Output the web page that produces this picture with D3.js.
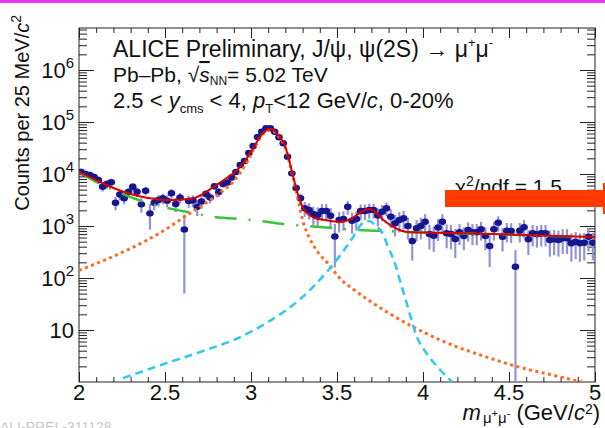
<!DOCTYPE html>
<html>
<head>
<meta charset="utf-8">
<script src="https://cdn.jsdelivr.net/npm/d3@7"></script>
<style>
  body { margin: 0; background: #fff; }
  svg { display: block; font-family: "Liberation Sans", Arial, sans-serif; }
</style>
</head>
<body>
<svg id="chart" width="605" height="428"></svg>
<script>
// dimuon invariant mass, 25 MeV bins from 2 to 5 GeV/c2
const binLow = 2, binWidth = 0.025;
const counts = [
  11000, 10000, 9570, 8750, 7670, 5700, 6420, 6920, 2800, 4030,
  3410, 4510, 5700, 4570, 2610, 4770, 1750, 2800, 3160, 3410,
  3070, 4250, 2650, 3530, 860, 3030, 3090, 2350, 2960, 4120,
  3530, 5800, 4510, 6420, 6870, 8570, 10900, 14900, 17800, 25300,
  34500, 51500, 65100, 75700, 75700, 65100, 50800, 38900, 21500, 10300,
  5380, 3410, 2190, 2030, 1700, 1630, 1940, 1940, 1570, 630,
  1300, 1360, 2350, 1260, 1360, 1940, 1940, 2030, 2030, 1590,
  1880, 2190, 1510, 1130, 1300, 1410, 1000, 515, 903, 1000,
  1210, 702, 648, 935, 1210, 724, 702, 562, 757, 642,
  838, 757, 757, 864, 642, 412, 864, 1160, 623, 812,
  801, 165, 812, 944, 555, 724, 693, 724, 724, 538,
  555, 538, 580, 580, 465, 499, 465, 477, 623, 477
];
const errors = [
  1700, 1600, 1500, 1400, 1300, 1100, 1200, 1200, 800, 900,
  800, 900, 1000, 900, 800, 900, 900, 800, 800, 800,
  800, 900, 800, 800, 810, 800, 800, 800, 800, 800,
  800, 900, 900, 900, 900, 1000, 1200, 1400, 1500, 1800,
  2000, 2400, 2600, 2800, 2800, 2600, 2400, 2000, 1600, 1200,
  900, 800, 700, 700, 650, 650, 700, 700, 650, 470,
  550, 550, 700, 550, 550, 650, 650, 650, 650, 600,
  650, 650, 600, 500, 550, 550, 450, 300, 400, 450,
  480, 350, 330, 420, 480, 350, 350, 320, 330, 300,
  340, 330, 330, 340, 300, 250, 340, 380, 300, 330,
  330, 180, 330, 350, 280, 320, 310, 320, 320, 280,
  280, 280, 290, 290, 260, 270, 260, 260, 300, 260
];

// fit components
const totalMass = [2.0, 2.1, 2.2, 2.3, 2.4, 2.5, 2.6, 2.67, 2.73, 2.79, 2.85, 2.92, 2.98, 3.02, 3.06, 3.09, 3.11, 3.13, 3.16, 3.2, 3.24, 3.27, 3.31, 3.37, 3.43, 3.52, 3.59, 3.65, 3.69, 3.73, 3.77, 3.85, 3.91, 4.2, 4.6, 5.0];
const totalFit = [10930, 7670, 5380, 4120, 3455, 3160, 3235, 3455, 4310, 5880, 8010, 11940, 21200, 34500, 56200, 70200, 73300, 70200, 56200, 33000, 10450, 4310, 2030, 1425, 1305, 1194, 1425, 1942, 2123, 1778, 1305, 876, 767, 733, 671, 615];

const bkgMass = [2.0, 2.1, 2.2, 2.33, 2.49, 2.6, 2.75, 3.0, 3.24, 3.4, 3.63, 3.77, 3.9, 4.2, 4.6, 5.0];
const bkgFit = [10930, 7020, 4920, 3305, 2318, 1942, 1557, 1305, 1045, 957, 838, 802, 767, 725, 665, 608];

const jpsiMass = [2.0, 2.28, 2.47, 2.63, 2.72, 2.82, 2.895, 2.977, 3.02, 3.06, 3.09, 3.11, 3.13, 3.16, 3.2, 3.24, 3.27, 3.3, 3.34, 3.38, 3.45, 3.52, 3.6, 3.7, 3.8, 3.9, 4.0, 4.1, 4.2, 4.3, 4.4, 4.5, 4.6, 4.7, 4.8, 4.9, 4.95];
const jpsiFit = [140, 345, 733, 1628, 2535, 4310, 7020, 17000, 31600, 53800, 67100, 70200, 67100, 53800, 31600, 10000, 3775, 1305, 588, 345, 186, 96, 58.8, 34.5, 21.2, 13.6, 9.2, 6.4, 4.7, 3.6, 2.8, 2.2, 1.78, 1.49, 1.25, 1.04, 0.96];

const psiMass = [2.256, 2.494, 2.738, 2.9, 3.1, 3.28, 3.44, 3.52, 3.59, 3.65, 3.69, 3.72, 3.76, 3.8, 3.84, 3.87, 3.9, 3.93, 3.96, 4.0, 4.05, 4.1, 4.17];
const psiFit = [1.19, 2.22, 4.12, 6.43, 14.3, 37.8, 130, 277, 588, 1142, 1248, 1045, 767, 378, 178, 80, 37.8, 17, 8.0, 4.5, 2.65, 1.70, 1.0];

const xMajor = [2, 2.5, 3, 3.5, 4, 4.5, 5];
const xLabels = ["2", "2.5", "3", "3.5", "4", "4.5", "5"];
const yDecades = [10, 100, 1000, 10000, 100000, 1000000];
const yExponents = ["", "2", "3", "4", "5", "6"];

const svg = d3.select("#chart");

const x = d3.scaleLinear().domain([2, 5]).range([79, 595]);
const y = d3.scaleLog().domain([1, 6.42e6]).range([382, 28]);

// magenta strip at the very top
svg.append("rect").attr("x", 0).attr("y", 0).attr("width", 605).attr("height", 3).attr("fill", "#ee33ee");

svg.append("defs").append("clipPath").attr("id", "plotclip")
  .append("rect").attr("x", 79).attr("y", 28).attr("width", 516).attr("height", 354);

// ---- axes (ticks pointing inwards, ROOT style)
const xMinor = x.ticks(30).filter(v => !xMajor.some(m => Math.abs(m - v) < 1e-6));
const yAll = y.ticks().filter(v => v > 1);
const yMinor = yAll.filter(v => !yDecades.includes(v));

function tickAxis(axisFn, scale, vals, size, tx, ty) {
  svg.append("g")
    .attr("transform", `translate(${tx},${ty})`)
    .call(axisFn(scale).tickValues(vals).tickSize(size).tickFormat(""))
    .call(g => g.select(".domain").remove())
    .call(g => g.selectAll("line").attr("stroke", "#222"));
}
tickAxis(d3.axisTop, x, xMajor, 10, 0, 382);
tickAxis(d3.axisTop, x, xMinor, 5, 0, 382);
tickAxis(d3.axisBottom, x, xMajor, 10, 0, 28);
tickAxis(d3.axisBottom, x, xMinor, 5, 0, 28);
tickAxis(d3.axisRight, y, yDecades, 15, 79, 0);
tickAxis(d3.axisRight, y, yMinor, 8, 79, 0);
tickAxis(d3.axisLeft, y, yDecades, 15, 595, 0);
tickAxis(d3.axisLeft, y, yMinor, 8, 595, 0);

svg.append("rect").attr("x", 79).attr("y", 28).attr("width", 516).attr("height", 354)
  .attr("fill", "none").attr("stroke", "#222").attr("stroke-width", 1);

// tick labels
svg.append("g").selectAll("text").data(xMajor).join("text")
  .attr("x", d => x(d)).attr("y", 400)
  .attr("text-anchor", "middle").attr("font-size", 22).attr("fill", "#111")
  .text((d, i) => xLabels[i]);

const yl = svg.append("g").selectAll("text").data(yDecades).join("text")
  .attr("x", 74).attr("y", d => y(d) + 8)
  .attr("text-anchor", "end").attr("font-size", 22).attr("fill", "#111");
yl.append("tspan").text("10");
yl.append("tspan").attr("font-size", 15).attr("dy", -10).text((d, i) => yExponents[i]);

// axis titles
const yt = svg.append("text")
  .attr("transform", "translate(29,15) rotate(-90)")
  .attr("text-anchor", "end").attr("font-size", 20).attr("fill", "#111");
yt.append("tspan").text("Counts per 25 MeV/");
yt.append("tspan").attr("font-style", "italic").text("c");
yt.append("tspan").attr("font-size", 14).attr("dy", -8).text("2");

const xt = svg.append("text")
  .attr("x", 600).attr("y", 420)
  .attr("text-anchor", "end").attr("font-size", 22).attr("fill", "#111");
xt.append("tspan").attr("font-style", "italic").text("m");
xt.append("tspan").attr("font-size", 15).attr("dx", 2).attr("dy", 3).text("\u03bc");
xt.append("tspan").attr("font-size", 11).attr("dy", -6).text("+");
xt.append("tspan").attr("font-size", 15).attr("dy", 6).text("\u03bc");
xt.append("tspan").attr("font-size", 11).attr("dy", -6).text("-");
xt.append("tspan").attr("dy", 3).text("  (GeV/");
xt.append("tspan").attr("font-style", "italic").text("c");
xt.append("tspan").attr("font-size", 14).attr("dy", -6).text("2");
xt.append("tspan").attr("dy", 6).text(")");

// ---- data
const plot = svg.append("g").attr("clip-path", "url(#plotclip)");
const pts = counts.map((c, i) => ({ m: binLow + (i + 0.5) * binWidth, c: c, e: errors[i] }));

plot.append("g").selectAll("line").data(pts).join("line")
  .attr("x1", d => x(d.m)).attr("x2", d => x(d.m))
  .attr("y1", d => y(Math.max(d.c - d.e, 0.5)))
  .attr("y2", d => y(d.c + d.e))
  .attr("stroke", "#9494d4").attr("stroke-width", 2.2);

plot.append("g").selectAll("ellipse").data(pts).join("ellipse")
  .attr("cx", d => x(d.m)).attr("cy", d => y(d.c))
  .attr("rx", 3.8).attr("ry", 3.2)
  .attr("fill", "#161690");

// ---- fit curves
const line = d3.line().x(d => x(d[0])).y(d => y(d[1])).curve(d3.curveMonotoneX);

plot.append("path").datum(d3.zip(bkgMass, bkgFit)).attr("d", line)
  .attr("fill", "none").attr("stroke", "#3cc23c").attr("stroke-width", 2.5)
  .attr("stroke-dasharray", "22,12,2,12");
plot.append("path").datum(d3.zip(jpsiMass, jpsiFit)).attr("d", line)
  .attr("fill", "none").attr("stroke", "#ff6a1e").attr("stroke-width", 3)
  .attr("stroke-dasharray", "3,3.5");
plot.append("path").datum(d3.zip(psiMass, psiFit)).attr("d", line)
  .attr("fill", "none").attr("stroke", "#33c6f2").attr("stroke-width", 2.5)
  .attr("stroke-dasharray", "8,5");
plot.append("path").datum(d3.zip(totalMass, totalFit)).attr("d", line)
  .attr("fill", "none").attr("stroke", "#d80000").attr("stroke-width", 2);

// ---- labels in the frame
const t1 = svg.append("text").attr("x", 113).attr("y", 57).attr("font-size", 23).attr("fill", "#111");
t1.append("tspan").text("ALICE Preliminary, J/\u03c8, \u03c8(2S) \u2192 \u03bc");
t1.append("tspan").attr("font-size", 13).attr("dy", -10).text("+");
t1.append("tspan").attr("dy", 10).text("\u03bc");
t1.append("tspan").attr("font-size", 13).attr("dy", -10).text("-");

const t2 = svg.append("text").attr("x", 113).attr("y", 82).attr("font-size", 21).attr("fill", "#111");
t2.append("tspan").text("Pb\u2013Pb, \u221a");
t2.append("tspan").attr("font-style", "italic").attr("text-decoration", "overline").text("s");
t2.append("tspan").attr("font-size", 12).attr("dy", 3).text("NN");
t2.append("tspan").attr("dy", -3).text("= 5.02 TeV");

const t3 = svg.append("text").attr("x", 113).attr("y", 108).attr("font-size", 22).attr("fill", "#111");
t3.append("tspan").text("2.5 < ");
t3.append("tspan").attr("font-style", "italic").text("y");
t3.append("tspan").attr("font-size", 13).attr("dy", 5).text("cms");
t3.append("tspan").attr("dy", -5).text(" < 4, ");
t3.append("tspan").attr("font-style", "italic").text("p");
t3.append("tspan").attr("font-size", 13).attr("dy", 5).text("T");
t3.append("tspan").attr("dy", -5).text("<12 GeV/");
t3.append("tspan").attr("font-style", "italic").text("c");
t3.append("tspan").text(", 0-20%");

const t4 = svg.append("text").attr("x", 455).attr("y", 194).attr("font-size", 21).attr("fill", "#111");
t4.append("tspan").text("\u03c7");
t4.append("tspan").attr("font-size", 14).attr("dy", -8).text("2");
t4.append("tspan").attr("dy", 8).text("/ndf = 1.5");

// red-orange marker bar over the chi2 label
svg.append("rect").attr("x", 445).attr("y", 190).attr("width", 160).attr("height", 17).attr("fill", "#ff3a00");
svg.append("rect").attr("x", 603).attr("y", 183).attr("width", 2).attr("height", 31).attr("fill", "#ff3a00");

// faint label at the bottom left, cut by the frame edge
svg.append("text").attr("x", 0).attr("y", 432).attr("font-size", 14).attr("fill", "#c8c8c8")
  .text("ALI-PREL-311128");
</script>
</body>
</html>
